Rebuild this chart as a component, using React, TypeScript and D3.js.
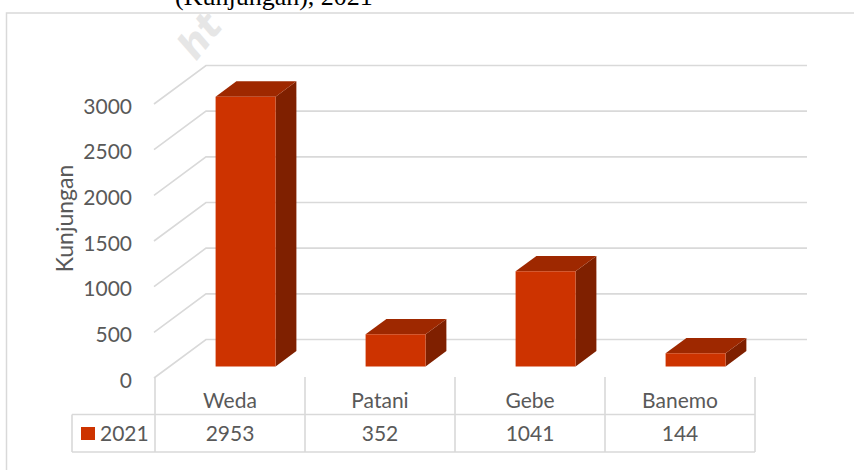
import React from 'react';
import * as d3 from 'd3';

const categories = ['Weda', 'Patani', 'Gebe', 'Banemo'];
const values2021 = [2953, 352, 1041, 144];
const seriesName = '2021';
const yTicks = [0, 500, 1000, 1500, 2000, 2500, 3000];
const axisTitle = 'Kunjungan';
const captionText = '(Kunjungan), 2021';
const watermarkText = 'ht';

const FONT = 'Lato, "Open Sans", sans-serif';
const GRID = '#D9D9D9';
const TXT = '#595959';

export default function App() {
  const W = 854;
  const H = 470;
  const x = d3.scaleBand<string>().domain(categories).range([155, 755]).paddingInner(0.6).paddingOuter(0.3);
  const xCol = d3.scaleBand<string>().domain(categories).range([155, 755]);
  const y = d3.scaleLinear().domain([0, 3000]).range([378, 104]);
  const DX = 52;
  const DY = -38.5;
  const proj = (px: number, v: number, t: number): [number, number] => [px + DX * t, y(v) + DY * t];
  const pts = (arr: [number, number][]) => arr.map((p) => p.join(',')).join(' ');
  const t0 = 0.3;
  const t1 = 0.7;
  const bw = x.bandwidth();

  return (
    <svg width={W} height={H} style={{ position: 'absolute', left: 0, top: 0, background: '#fff' }}>
      <rect x={0} y={0} width={W} height={H} fill="#fff" />
      <text x={175} y={5} fontFamily='"Liberation Serif", "Times New Roman", serif' fontSize={26} fill="#000">
        {captionText}
      </text>
      <rect x={6.5} y={13} width={900} height={500} fill="none" stroke={GRID} strokeWidth={1.5} />
      <text
        transform="translate(196,62) rotate(-52)"
        fontFamily='"DejaVu Sans", sans-serif'
        fontWeight="bold"
        fontStyle="italic"
        fontSize={38}
        fill="#E6E6E6"
      >
        {watermarkText}
      </text>

      {/* gridlines on left wall and back wall */}
      {yTicks.map((v) => (
        <polyline
          key={'g' + v}
          points={pts([proj(154, v, 0), proj(154, v, 1), proj(755, v, 1)])}
          fill="none"
          stroke={GRID}
          strokeWidth={1.6}
        />
      ))}

      {/* tick labels */}
      {yTicks.map((v) => (
        <text key={'t' + v} x={132} y={y(v) + 9.5} textAnchor="end" fontFamily={FONT} fontSize={21} fill={TXT}>
          {v}
        </text>
      ))}

      <text transform={`translate(73,218.5) rotate(-90)`} textAnchor="middle" fontFamily={FONT} fontSize={23} fill={TXT}>
        {axisTitle}
      </text>

      {/* bars */}
      {categories.map((c, i) => {
        const v = values2021[i];
        const x0 = x(c) as number;
        const x1 = x0 + bw;
        const front = [proj(x0, v, t0), proj(x1, v, t0), proj(x1, 0, t0), proj(x0, 0, t0)];
        const top = [proj(x0, v, t0), proj(x1, v, t0), proj(x1, v, t1), proj(x0, v, t1)];
        const side = [proj(x1, v, t0), proj(x1, v, t1), proj(x1, 0, t1), proj(x1, 0, t0)];
        return (
          <g key={'b' + c}>
            <polygon points={pts(side)} fill="#7F2000" />
            <polygon points={pts(top)} fill="#9E2800" />
            <polygon points={pts(front)} fill="#CD3300" />
          </g>
        );
      })}

      {/* data table */}
      {categories.map((c) => (
        <line key={'v' + c} x1={xCol(c) as number} x2={xCol(c) as number} y1={377} y2={452} stroke={GRID} strokeWidth={1.6} />
      ))}
      <line x1={755} x2={755} y1={377} y2={452} stroke={GRID} strokeWidth={1.6} />
      <line x1={72} x2={72} y1={414.5} y2={452} stroke={GRID} strokeWidth={1.6} />
      <line x1={72} x2={755} y1={414.5} y2={414.5} stroke={GRID} strokeWidth={1.6} />
      <line x1={72} x2={755} y1={452} y2={452} stroke={GRID} strokeWidth={1.6} />
      <rect x={81} y={427} width={14} height={13} fill="#CD3300" />
      <text x={100} y={441} fontFamily={FONT} fontSize={21} fill={TXT}>
        {seriesName}
      </text>
      {categories.map((c, i) => {
        const cx = (xCol(c) as number) + xCol.bandwidth() / 2;
        return (
          <g key={'l' + c}>
            <text x={cx} y={408} textAnchor="middle" fontFamily={FONT} fontSize={21} fill={TXT}>
              {c}
            </text>
            <text x={cx} y={441} textAnchor="middle" fontFamily={FONT} fontSize={21} fill={TXT}>
              {values2021[i]}
            </text>
          </g>
        );
      })}
    </svg>
  );
}
